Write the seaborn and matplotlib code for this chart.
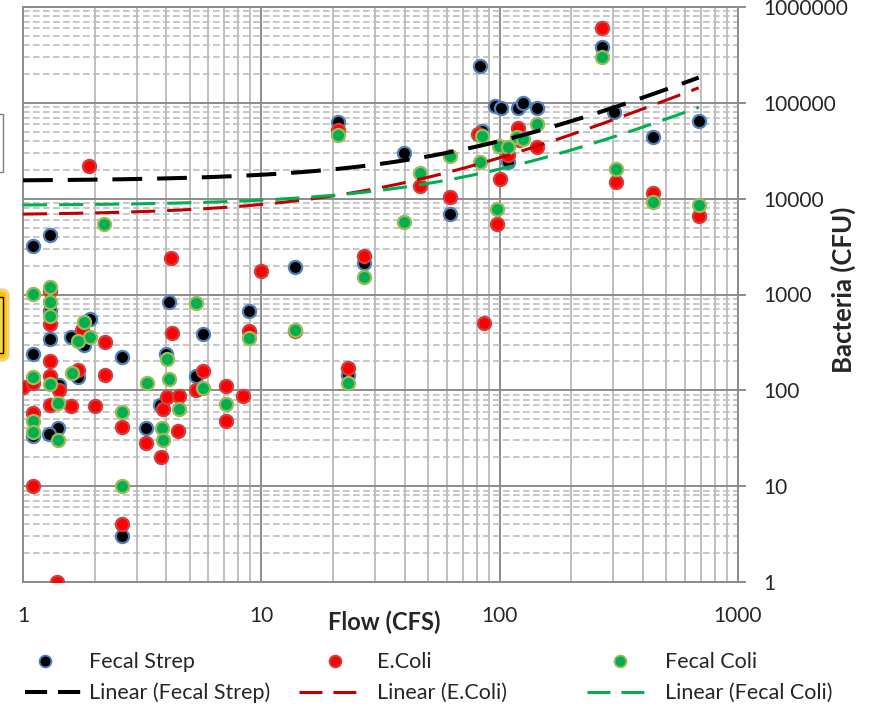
import numpy as np
import matplotlib.pyplot as plt
import matplotlib.ticker as mticker
from matplotlib.lines import Line2D
from matplotlib.patches import Rectangle, FancyBboxPatch
import seaborn as sns

# Fecal Strep samples (flow in CFS, bacteria in CFU)
fs_flow = [1.1, 1.3, 1.3, 1.3, 1.1, 1.59, 1.91, 1.8, 1.7, 1.42, 1.1, 1.4, 1.29,
           2.6, 2.6, 4.09, 3.98, 3.75, 3.28, 5.31, 5.69, 8.86, 13.9, 26.9, 23.0,
           20.9, 39.6, 61.7, 82.6, 95.5, 101, 119, 125, 143, 84.7, 108, 269, 303,
           442, 684]
fs_cfu = [3200, 4200, 670, 344, 240, 361, 556, 298, 138, 114, 33, 40, 35,
          223, 3, 837, 240, 70, 40, 141, 388, 674, 1940, 2140, 145,
          63300, 30100, 6940, 243000, 93000, 88700, 89000, 100000, 88700, 51000,
          24200, 384000, 80600, 44200, 64900]

# E.Coli samples
ec_flow = [1.0, 1.1, 1.1, 1.1, 1.39, 1.3, 1.3, 1.3, 1.3, 1.42, 1.3, 1.59, 2.0,
           1.77, 1.7, 2.21, 2.21, 1.89, 2.6, 2.6, 3.28, 3.79, 4.47, 3.86, 4.02,
           4.51, 4.17, 4.21, 5.69, 5.31, 7.1, 7.1, 8.37, 8.86, 10.0, 13.8, 23.0,
           26.9, 20.9, 46.2, 61.7, 86, 81, 100, 97.5, 108, 119, 121, 143, 269,
           308, 442, 684]
ec_cfu = [108, 119, 58, 10, 1, 1100, 493, 203, 141, 101, 70, 69, 69,
          427, 163, 320, 145, 22000, 41.5, 4, 28, 20, 38, 64, 85,
          87, 2410, 397, 160, 101, 111, 48, 87, 417, 1760, 417, 171,
          2530, 52300, 13600, 10400, 505, 47500, 16100, 5460, 28700, 54800, 41100,
          34800, 607000, 15000, 11500, 6610]

# Fecal Coli samples
fc_flow = [1.1, 1.3, 1.3, 1.3, 1.1, 1.3, 1.4, 1.1, 1.1, 1.4, 1.8, 1.91, 1.7,
           1.61, 2.19, 2.6, 2.6, 3.31, 3.83, 3.86, 4.02, 4.09, 4.51, 5.31, 5.69,
           7.1, 8.86, 13.8, 23.0, 26.9, 20.9, 39.6, 46.2, 61.7, 84.7, 82.6, 97.5,
           99, 108, 118, 125, 143, 269, 308, 442, 684]
fc_cfu = [1010, 1200, 837, 598, 138, 117, 74, 48, 37, 30, 518, 361, 328,
          152, 5460, 60, 10, 119, 40, 30, 213, 131, 64, 817, 106,
          72, 352, 427, 119, 1530, 46300, 5720, 18600, 28000, 45300, 24200, 7830,
          35600, 34800, 44200, 42100, 60400, 302000, 20500, 9270, 8610]

# linear trendlines (intercept, slope)
fs_fit = (15300, 246)
ec_fit = (6700, 200)
fc_fit = (8470, 118.8)

sns.set_style("white")
plt.rcParams['font.family'] = ['Lato', 'DejaVu Sans']

fig = plt.figure(figsize=(8.69, 7.08), dpi=100)
ax = fig.add_axes([23/869, 1 - 582/708, 715/869, 575/708])
ax.set_xscale('log')
ax.set_yscale('log')

series = [
    (fs_flow, fs_cfu, 'black', '#4F81BD'),
    (ec_flow, ec_cfu, '#FF0000', '#D04040'),
    (fc_flow, fc_cfu, '#00B050', '#9BBB59'),
]
for xs, ys, fc, ec in series:
    sns.scatterplot(x=xs, y=ys, ax=ax, color=fc, edgecolor=ec, linewidth=1.6,
                    s=90, zorder=3, legend=False)

xfit = np.logspace(0, np.log10(max(fs_flow)), 200)
fits = [
    (fs_fit, 'black', 2.9, (7.4, 3.7)),
    (ec_fit, '#C00000', 2.2, (7.9, 3.9)),
    (fc_fit, '#00B050', 2.2, (7.9, 3.9)),
]
for (a, b), col, lw, dash in fits:
    sns.lineplot(x=xfit, y=a + b * xfit, ax=ax, color=col, linewidth=lw,
                 linestyle=(0, dash), zorder=4, legend=False)

ax.set_xlim(1, 1000)
ax.set_ylim(1, 1e6)

ax.xaxis.set_major_locator(mticker.LogLocator(base=10, numticks=20))
ax.yaxis.set_major_locator(mticker.LogLocator(base=10, numticks=20))
ax.xaxis.set_minor_locator(mticker.LogLocator(base=10, subs=np.arange(2, 10), numticks=20))
ax.yaxis.set_minor_locator(mticker.LogLocator(base=10, subs=np.arange(2, 10), numticks=20))
fmt = mticker.FuncFormatter(lambda v, p: f'{int(round(v))}')
ax.xaxis.set_major_formatter(fmt)
ax.yaxis.set_major_formatter(fmt)
ax.xaxis.set_minor_formatter(mticker.NullFormatter())
ax.yaxis.set_minor_formatter(mticker.NullFormatter())

ax.set_axisbelow(True)
ax.grid(which='major', axis='both', color='#8C8C8C', lw=1.4, ls='-')
ax.xaxis.grid(True, which='minor', color='#B4B4B4', lw=1.2, ls='-')
ax.yaxis.grid(True, which='minor', color='#BDBDBD', lw=1.2, ls=(0, (4, 2)))

for sp in ax.spines.values():
    sp.set_color('#8C8C8C')
    sp.set_linewidth(1.4)

ax.yaxis.tick_right()
ax.tick_params(axis='y', which='major', direction='out', length=6, width=1.4,
               color='#8C8C8C', pad=12, labelsize=15, right=True, left=False)
ax.tick_params(axis='y', which='minor', length=0)
ax.tick_params(axis='x', which='both', direction='out', length=5, width=1.2,
               color='#A0A0A0', pad=12, labelsize=15)

ax.set_xlabel('Flow (CFS)', fontsize=17, fontweight='bold')
ax.xaxis.set_label_coords(0.505, -0.07)
ax.xaxis.label.set_va('center')
ax.yaxis.set_label_position('right')
ax.set_ylabel('Bacteria (CFU)', fontsize=18.5, fontweight='bold', rotation=90)
ax.yaxis.set_label_coords(1.147, 0.508)
ax.yaxis.label.set_va('center')
ax.yaxis.label.set_ha('center')

# legend entries placed one by one: (handle, label, handle start px, handle len px, text px, row y px)
fs_px = 15.5 * 100 / 72
entries = [
    (Line2D([], [], ls='none', marker='o', ms=8.5, mfc='black', mec='#4F81BD', mew=1.3),
     'Fecal Strep', 34, 21, 89, 662),
    (Line2D([], [], ls='none', marker='o', ms=8.5, mfc='#FF0000', mec='#D04040', mew=1.3),
     'E.Coli', 324, 21, 377, 662),
    (Line2D([], [], ls='none', marker='o', ms=8.5, mfc='#00B050', mec='#9BBB59', mew=1.3),
     'Fecal Coli', 609, 21, 665, 662),
    (Line2D([], [], color='black', lw=2.9, ls=(0, (5.5, 2.7))),
     'Linear (Fecal Strep)', 25, 58, 89, 693),
    (Line2D([], [], color='#C00000', lw=2.2, ls=(0, (7.5, 3.6))),
     'Linear (E.Coli)', 299, 61, 377, 693),
    (Line2D([], [], color='#00B050', lw=2.2, ls=(0, (7.5, 3.6))),
     'Linear (Fecal Coli)', 587, 58, 665, 693),
]
for h, lab, x0, hl, tx, yy in entries:
    fig.legend(handles=[h], labels=[lab], loc='center left',
               bbox_to_anchor=(x0/869, 1 - yy/708), frameon=False, fontsize=15.5,
               handlelength=hl/fs_px, handletextpad=(tx - x0 - hl)/fs_px,
               handleheight=0.5, borderpad=0, borderaxespad=0)

# cut-off text boxes at the left edge
fig.add_artist(Rectangle((-20/869, 1 - 172/708), 23/869, 58/708, transform=fig.transFigure,
                         facecolor='white', edgecolor='#7F7F7F', lw=1.0))
fig.add_artist(FancyBboxPatch((-20/869, 1 - 360/708), 28/869, 70/708,
                              boxstyle='round,pad=0,rounding_size=0.008',
                              transform=fig.transFigure, facecolor='#FFC000',
                              edgecolor='#F2D27A', lw=2.5))
fig.add_artist(Rectangle((-20/869, 1 - 353/708), 23/869, 56/708, transform=fig.transFigure,
                         facecolor='#FFD24D', edgecolor='black', lw=1.0))

fig.savefig('out.png', dpi=100)
